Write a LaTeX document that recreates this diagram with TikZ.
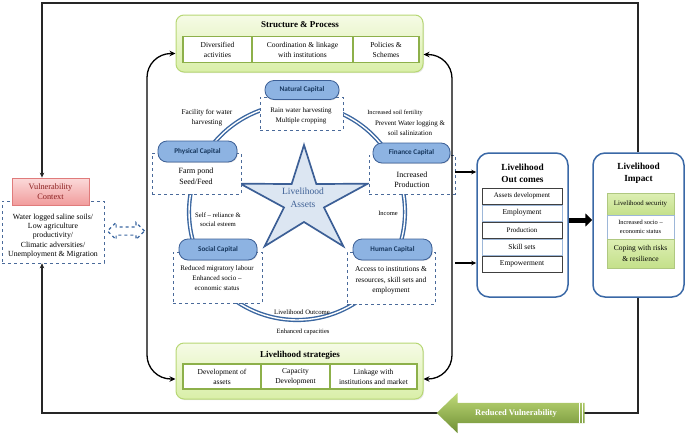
\documentclass[tikz,border=0pt]{standalone}
\usepackage{fontspec}
\setmainfont{Liberation Serif}
\newfontfamily\capfont{Carlito}
\usetikzlibrary{arrows.meta,shapes.geometric,shapes.arrows,shadows,calc}
\definecolor{ringblue}{HTML}{3A66A0}
\definecolor{capfill}{HTML}{8DB3E2}
\definecolor{capedge}{HTML}{3C5F96}
\definecolor{captext}{HTML}{17375E}
\definecolor{starfill}{HTML}{DCE6F2}
\definecolor{startext}{HTML}{3F6196}
\definecolor{boxblue}{HTML}{3A68A6}
\definecolor{dashblue}{HTML}{4A6A9A}
\definecolor{greentop}{HTML}{F6FBE6}
\definecolor{greenbot}{HTML}{D9EFA8}
\definecolor{greenedge}{HTML}{B7D774}
\definecolor{cellgreen}{HTML}{8DB04A}
\definecolor{lgtop}{HTML}{DDEFB4}
\definecolor{lgbot}{HTML}{C4E08A}
\definecolor{paleblue}{HTML}{9DB7D8}
\definecolor{pinktop}{HTML}{FBDADA}
\definecolor{pinkbot}{HTML}{F19C9C}
\definecolor{pinkedge}{HTML}{E07B7B}
\definecolor{vcred}{HTML}{8A1F1F}
\definecolor{arrowtop}{HTML}{C0DA78}
\definecolor{arrowbot}{HTML}{6E8F34}
\newcommand{\myfs}[2]{\fontsize{#1}{#2}\selectfont}
\begin{document}
\begin{tikzpicture}[x=1pt,y=-1pt,
  greenbox/.style={draw=greenedge, line width=1pt, rounded corners=8pt, top color=greentop, bottom color=greenbot, drop shadow={opacity=0.18,shadow xshift=1pt,shadow yshift=-1.2pt}},
  cell/.style={draw=cellgreen, line width=1.2pt, fill=white, align=center, inner sep=0pt, font=\myfs{7.5}{10}},
  capnode/.style={draw=capedge, line width=0.8pt, fill=capfill, rounded corners=9pt, inner sep=0pt, font=\capfont\bfseries\myfs{7.2}{8}, text=captext, drop shadow={opacity=0.25,shadow xshift=0.8pt,shadow yshift=-0.8pt}},
  dbox/.style={draw=dashblue, dashed, line width=0.6pt, fill=white, inner sep=0pt},
  txt/.style={align=center, inner sep=0pt},
  loopline/.style={line width=1.3pt, rounded corners=24pt, {Stealth[length=6pt,width=5.5pt]}-{Stealth[length=6pt,width=5.5pt]}},
  fb/.style={line width=1.1pt, black!85, -{Stealth[length=5pt,width=4.5pt]}},
  smallarrow/.style={line width=1.1pt, -{Stealth[length=5pt,width=4.5pt]}},
  bigbox/.style={draw=boxblue, line width=1.5pt, rounded corners=12pt, fill=white},
  item/.style={fill=white, line width=0.9pt, minimum width=80pt, minimum height=16pt, inner sep=0pt, font=\myfs{7}{9}, drop shadow={opacity=0.2,shadow xshift=0.8pt,shadow yshift=-0.8pt}},
  itemdark/.style={item, draw=black!75},
  itemlight/.style={item, draw=paleblue},
]
\useasboundingbox (0,0) rectangle (685,434);

% ---------- feedback frame ----------
\coordinate (frameR) at (638,0);
\coordinate (frameTL) at (42,3);
\coordinate (frameBL) at (42,413);

% ---------- ring ----------
\coordinate (ringc) at (297,212);
\draw[ringblue, line width=1.4pt, double=white, double distance=1.4pt] (ringc) circle[radius=108];

% ---------- star ----------
\filldraw[draw=capedge, fill=starfill, line width=1.7pt, line join=miter]
  plot[samples at={0,1,...,9}, variable=\k]
  ({304+ifthenelse(mod(\k,2)==0,67,21)*cos(90+36*\k)},{201-ifthenelse(mod(\k,2)==0,56,21)*sin(90+36*\k)}) -- cycle;
\node[txt, font=\myfs{9.5}{13}, text=startext] (LA) at (303,198) {Livelihood\\Assets};

% ---------- capitals ----------
\node[dbox, minimum width=83pt, minimum height=33pt] (NCb) at (301.5,113.5) {};
\node[txt, font=\myfs{7}{10}] (NCt) at (301,116) {Rain water harvesting\\Multiple cropping};
\node[capnode, minimum width=74pt, minimum height=19pt] (NC) at (302,90) {Natural Capital};

\node[dbox, minimum width=89pt, minimum height=41pt] (PCb) at (196.5,173.5) {};
\node[txt, font=\myfs{8}{11}] (PCt) at (196,176.5) {Farm pond\\Seed/Feed};
\node[capnode, minimum width=79pt, minimum height=21pt] (PC) at (197.5,151.5) {Physical Capital};

\node[dbox, minimum width=86pt, minimum height=39pt] (FCb) at (412,174.5) {};
\node[txt, font=\myfs{8}{10.5}] (FCt) at (412,180) {Increased\\Production};
\node[capnode, minimum width=77pt, minimum height=20pt] (FC) at (411.5,153) {Finance Capital};

\node[dbox, minimum width=89pt, minimum height=51pt] (SCb) at (217.5,277.5) {};
\node[txt, font=\myfs{7}{10}] (SCt) at (217,278) {Reduced migratory labour\\Enhanced socio --\\economic status};
\node[capnode, minimum width=78pt, minimum height=21pt] (SC) at (218,249.5) {Social Capital};

\node[dbox, minimum width=88pt, minimum height=52pt] (HCb) at (391,278) {};
\node[txt, font=\myfs{7.5}{10.5}] (HCt) at (391,280.5) {Access to institutions \&\\resources, skill sets and\\employment};
\node[capnode, minimum width=79pt, minimum height=21pt] (HC) at (392.5,249.5) {Human Capital};

% ---------- ring labels ----------
\node[txt, font=\myfs{7.3}{10}] (L1) at (207,118) {Facility for water\\harvesting};
\node[txt, font=\myfs{6.3}{8}] (L2) at (395,113) {Increased soil fertility};
\node[txt, font=\myfs{7}{10}] (L3) at (410,128) {Prevent Water logging \&\\soil salinization};
\node[txt, font=\myfs{6.7}{9.5}] (L4) at (218,219.5) {Self -- reliance \&\\social esteem};
\node[txt, font=\myfs{6.5}{8}] (L5) at (388,213) {Income};
\node[txt, font=\myfs{6.7}{8}] (L6) at (302,312) {Livelihood Outcome};
\node[txt, font=\myfs{6.5}{8}] (L7) at (303,332) {Enhanced capacities};

% ---------- Structure & Process ----------
\node[greenbox, minimum width=247pt, minimum height=57pt, inner sep=0pt] (SP) at (299.5,43.5) {};
\node[txt, font=\bfseries\myfs{9}{10}] (SPt) at (300,25) {Structure \& Process};
\node[cell, minimum width=69pt, minimum height=26pt] (D1) at (217.5,49.5) {Diversified\\activities};
\node[cell, minimum width=101pt, minimum height=26pt] (D2) at (302.5,49.5) {Coordination \& linkage\\with institutions};
\node[cell, minimum width=66pt, minimum height=26pt] (D3) at (386,49.5) {Policies \&\\Schemes};

% ---------- Livelihood strategies ----------
\node[greenbox, minimum width=247pt, minimum height=56pt, inner sep=0pt] (LS) at (299.5,371) {};
\node[txt, font=\bfseries\myfs{9}{10}] (LSt) at (300,355) {Livelihood strategies};
\node[cell, minimum width=78pt, minimum height=25pt] (S1) at (222,376.5) {Development of\\assets};
\node[cell, minimum width=69pt, minimum height=25pt] (S2) at (295.5,376.5) {Capacity\\Development};
\node[cell, minimum width=87pt, minimum height=25pt] (S3) at (373.5,376.5) {Linkage with\\institutions and market};

% ---------- loops ----------
\coordinate (lx) at (147,215);
\coordinate (rx) at (452,215);
\draw[loopline] ([yshift=-10pt]SP.west) -| (lx) |- ([yshift=-8pt]LS.west);
\draw[loopline] ([yshift=-11pt]SP.east) -| (rx) |- ([yshift=-8pt]LS.east);

% ---------- outcomes ----------
\node[bigbox, minimum width=91pt, minimum height=144pt] (OUT) at (522.5,225) {};
\node[txt, font=\bfseries\myfs{9.3}{12}] (OUTt) at (522.5,173) {Livelihood\\Out comes};
\node[itemdark] (O1) at (522,196) {Assets development};
\node[itemlight, font=\myfs{7.5}{9}] (O2) at (522,213) {Employment};
\node[itemdark] (O3) at (522,230) {Production};
\node[itemlight, font=\myfs{7.5}{9}] (O4) at (522,247) {Skill sets};
\node[itemdark, font=\myfs{7.5}{9}] (O5) at (522,264) {Empowerment};

\coordinate (a1) at (455,172);
\coordinate (a2) at (455,263);
\draw[smallarrow] (a1) -- (a1 -| OUT.west);
\draw[smallarrow] (a2) -- (a2 -| OUT.west);

% ---------- impact ----------
\node[bigbox, minimum width=91pt, minimum height=144pt] (IMP) at (638.5,225) {};
\node[txt, font=\bfseries\myfs{9.3}{12}] (IMPt) at (638.5,173) {Livelihood\\Impact};
\node[draw=cellgreen!70, line width=0.6pt, top color=lgtop, bottom color=lgbot, minimum width=67pt, minimum height=22pt, inner sep=0pt, font=\myfs{6.8}{9}] (I1) at (640.5,204) {Livelihood security};
\node[draw=paleblue, line width=0.6pt, fill=white, minimum width=67pt, minimum height=24pt, inner sep=0pt, align=center, font=\myfs{6.4}{9}] (I2) at (640.5,227) {Increased socio --\\economic status};
\node[draw=cellgreen!70, line width=0.6pt, top color=lgtop, bottom color=lgbot, minimum width=67pt, minimum height=29pt, inner sep=0pt, align=center, font=\myfs{7.5}{10.5}] (I3) at (640.5,253.5) {Coping with risks\\\& resilience};

\draw[line width=5pt, -{Triangle[length=7pt,width=13pt]}] ([yshift=5pt]OUT.east) -- ([yshift=5pt]IMP.west);

% ---------- vulnerability ----------
\node[dbox, minimum width=102pt, minimum height=62pt] (VD) at (53,232) {};
\node[txt, font=\myfs{7.8}{9.3}] (VDt) at (53,236) {Water logged saline soils/\\Low agriculture\\productivity/\\Climatic adversities/\\Unemployment \& Migration};
\node[draw=pinkedge, line width=0.8pt, top color=pinktop, bottom color=pinkbot, minimum width=77pt, minimum height=27pt, inner sep=0pt, align=center, font=\myfs{8.3}{10}, text=vcred] (VC) at (50.5,191.5) {Vulnerability\\Context};

\node[double arrow, draw=ringblue, dashed, line width=1.1pt, fill=white, minimum height=37pt, minimum width=16pt, double arrow head extend=4.5pt, inner xsep=0pt, inner ysep=3.5pt] (DA) at (126,231) {};

% ---------- feedback lines ----------
\draw[fb] (IMP.north -| frameR) |- (frameTL) -- (frameTL |- VC.north);
\draw[fb] (IMP.south -| frameR) |- (frameBL) -- (frameBL |- VD.south);

% ---------- reduced vulnerability ----------
\node[single arrow, shape border rotate=180, minimum height=148pt, minimum width=40pt, single arrow head extend=10pt, single arrow tip angle=88, inner xsep=2pt, inner ysep=6pt, text height=6pt, text depth=2pt, top color=arrowtop, bottom color=arrowbot, draw=none, font=\bfseries\myfs{8.5}{10}, text=white] (RV) at (516,413) {Reduced Vulnerability};
\draw[white, line width=0.7pt] ([xshift=-3pt]RV.before tail) -- ([xshift=-3pt]RV.after tail);
\draw[white, line width=0.7pt] ([xshift=-6pt]RV.before tail) -- ([xshift=-6pt]RV.after tail);
\end{tikzpicture}
\end{document}
